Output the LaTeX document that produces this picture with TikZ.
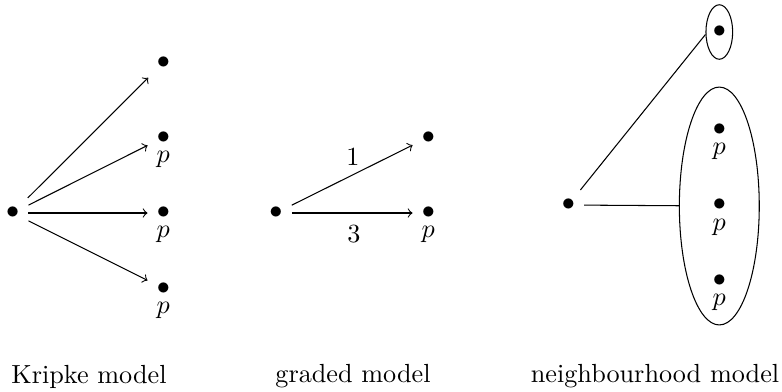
\documentclass[tikz,border=0pt]{standalone}
\usetikzlibrary{shapes.geometric}
\begin{document}
\begin{tikzpicture}[x=0.3817pt,y=-0.3817pt,
  dotnode/.style={inner sep=3.33pt},
  lab/.style={inner sep=0pt},
  setshape/.style={draw,ellipse,inner sep=0pt},
  arr/.style={->},
  caption/.style={inner sep=0pt}]
\useasboundingbox (0,0) rectangle (782,391);
% Kripke model
\node[dotnode] (k0) at (12.7,213) {$\bullet$};
\node[dotnode] (k1) at (163.3,62.7) {$\bullet$};
\node[dotnode] (k2) at (163.3,137.5) {$\bullet$};
\node[dotnode] (k3) at (163.3,213) {$\bullet$};
\node[dotnode] (k4) at (163.3,288.3) {$\bullet$};
\node[lab] (kp2) at (163.3,159) {$p$};
\node[lab] (kp3) at (163.3,234) {$p$};
\node[lab] (kp4) at (163.3,310) {$p$};
\draw[arr] (k0) -- (k1);
\draw[arr] (k0) -- (k2);
\draw[arr] (k0) -- (k3);
\draw[arr] (k0) -- (k4);
% graded model
\node[dotnode] (g0) at (276,213) {$\bullet$};
\node[dotnode] (g1) at (428.3,137.3) {$\bullet$};
\node[dotnode] (g2) at (428.3,213) {$\bullet$};
\node[lab] (gp2) at (428.3,234) {$p$};
\draw[arr] (g0) -- (g1);
\draw[arr] (g0) -- (g2);
\node[lab] (w1) at (353,157) {$1$};
\node[lab] (w3) at (354,234) {$3$};
% neighbourhood model
\node[dotnode] (n0) at (568.3,205) {$\bullet$};
\node[dotnode] (n1) at (719.3,31.7) {$\bullet$};
\node[dotnode] (n2) at (719.3,129.7) {$\bullet$};
\node[dotnode] (n3) at (719.3,205) {$\bullet$};
\node[dotnode] (n4) at (719.3,281) {$\bullet$};
\node[lab] (np2) at (719.3,151) {$p$};
\node[lab] (np3) at (719.3,227) {$p$};
\node[lab] (np4) at (719.3,302) {$p$};
\node[setshape,minimum width=10.2pt,minimum height=20.8pt] (e1) at (719.3,32) {};
\node[setshape,minimum width=30.5pt,minimum height=90.8pt] (e2) at (719.3,206) {};
\draw (n0) -- (e1.190);
\draw (n0) -- (e2);
% captions
\node[caption] (c1) at (89,376.5) {Kripke model};
\node[caption] (c2) at (353,376.5) {graded model};
\node[caption] (c3) at (655,376.5) {neighbourhood model};
\end{tikzpicture}
\end{document}
